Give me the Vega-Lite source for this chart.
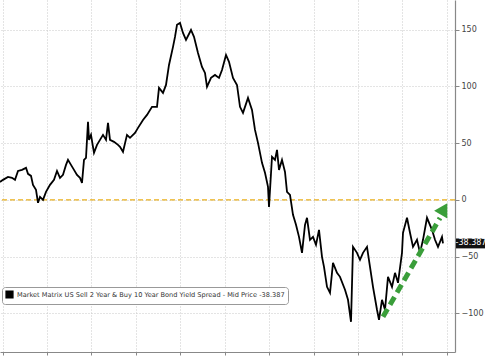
{
  "$schema": "https://vega.github.io/schema/vega-lite/v6.json",
  "width": 455,
  "height": 352,
  "autosize": {"type": "none"},
  "padding": {"left": 0, "top": 0, "right": 30, "bottom": 8},
  "background": "white",
  "config": {"view": {"stroke": null}, "font": "DejaVu Sans"},
  "datasets": {
    "spread": [
      {"d":0,"v":15.8},{"d":3,"v":17.6},{"d":8,"v":20.2},{"d":12,"v":19.4},{"d":15,"v":17.6},{"d":18,"v":25.5},{"d":22,"v":26.4},{"d":26,"v":28.2},{"d":28,"v":22.9},{"d":31,"v":21.1},{"d":33,"v":13.2},{"d":36,"v":8.8},{"d":38,"v":-2.6},{"d":40,"v":2.6},{"d":43,"v":0},{"d":46,"v":7.0},{"d":50,"v":13.2},{"d":54,"v":17.6},{"d":57,"v":25.5},{"d":60,"v":19.4},{"d":63,"v":22.0},{"d":66,"v":30.8},{"d":68,"v":35.2},{"d":71,"v":30.8},{"d":74,"v":26.4},{"d":77,"v":22.0},{"d":80,"v":19.4},{"d":82,"v":15.0},{"d":84,"v":35.2},{"d":86,"v":37.0},{"d":88,"v":68.7},{"d":89,"v":52.8},{"d":91,"v":57.2},{"d":94,"v":41.4},{"d":97,"v":48.4},{"d":100,"v":52.8},{"d":103,"v":57.2},{"d":106,"v":52.8},{"d":108,"v":67.8},{"d":110,"v":52.8},{"d":114,"v":51.1},{"d":118,"v":48.4},{"d":120,"v":46.7},{"d":123,"v":42.3},{"d":127,"v":57.2},{"d":130,"v":54.6},{"d":135,"v":59.0},{"d":138,"v":63.4},{"d":143,"v":70.4},{"d":147,"v":74.8},{"d":152,"v":81.9},{"d":157,"v":81.9},{"d":159,"v":98.6},{"d":163,"v":94.2},{"d":166,"v":101.2},{"d":169,"v":118.8},{"d":173,"v":134.7},{"d":175,"v":143.5},{"d":177,"v":154.1},{"d":180,"v":155.8},{"d":183,"v":147.0},{"d":186,"v":140.8},{"d":191,"v":149.6},{"d":194,"v":143.5},{"d":198,"v":129.4},{"d":202,"v":117.1},{"d":205,"v":111.8},{"d":207,"v":99.5},{"d":211,"v":107.4},{"d":215,"v":110.0},{"d":219,"v":107.4},{"d":222,"v":114.4},{"d":226,"v":127.6},{"d":229,"v":121.5},{"d":233,"v":107.4},{"d":237,"v":101.2},{"d":240,"v":81.9},{"d":243,"v":76.6},{"d":248,"v":89.8},{"d":252,"v":79.2},{"d":255,"v":61.6},{"d":258,"v":50.2},{"d":262,"v":32.6},{"d":265,"v":23.8},{"d":268,"v":11.4},{"d":269,"v":-6.2},{"d":272,"v":37.9},{"d":275,"v":35.2},{"d":277,"v":44.0},{"d":279,"v":26.4},{"d":282,"v":35.2},{"d":285,"v":24.6},{"d":287,"v":7.0},{"d":290,"v":4.4},{"d":293,"v":-13.2},{"d":296,"v":-22.0},{"d":299,"v":-32.6},{"d":302,"v":-46.7},{"d":305,"v":-22.0},{"d":307,"v":-15.8},{"d":310,"v":-35.2},{"d":313,"v":-32.6},{"d":316,"v":-39.6},{"d":319,"v":-26.4},{"d":322,"v":-50.2},{"d":324,"v":-59.0},{"d":327,"v":-76.6},{"d":330,"v":-81.9},{"d":333,"v":-55.5},{"d":337,"v":-64.3},{"d":340,"v":-67.8},{"d":345,"v":-79.2},{"d":348,"v":-88.0},{"d":351,"v":-107.4},{"d":353,"v":-41.4},{"d":357,"v":-46.7},{"d":360,"v":-52.8},{"d":363,"v":-46.7},{"d":367,"v":-41.4},{"d":370,"v":-59.0},{"d":373,"v":-76.6},{"d":377,"v":-96.8},{"d":379,"v":-105.6},{"d":382,"v":-88.0},{"d":385,"v":-96.8},{"d":388,"v":-67.8},{"d":392,"v":-76.6},{"d":395,"v":-64.3},{"d":398,"v":-73.1},{"d":402,"v":-46.7},{"d":403,"v":-29.0},{"d":407,"v":-15.8},{"d":410,"v":-29.0},{"d":413,"v":-41.4},{"d":417,"v":-35.2},{"d":420,"v":-46.7},{"d":423,"v":-35.2},{"d":427,"v":-15.8},{"d":432,"v":-26.4},{"d":435,"v":-35.2},{"d":438,"v":-41.4},{"d":442,"v":-32.6},{"d":443,"v":-38.387}
    ],
    "arrow": [{"d":383,"v":-103},{"d":440,"v":-16}],
    "head": [{"d":444,"v":-8}],
    "zero": [{"v":0}],
    "last": [{"d":471,"v":-38.387,"label":"-38.387"}]
  },
  "layer": [
    {
      "data": {"name": "zero"},
      "mark": {"type": "rule", "color": "#eab01c", "strokeWidth": 1.3, "strokeDash": [5, 3]},
      "encoding": {"y": {"field": "v", "type": "quantitative"}}
    },
    {
      "data": {"name": "spread"},
      "transform": [{"calculate": "'Market Matrix US Sell 2 Year & Buy 10 Year Bond Yield Spread - Mid Price -38.387'", "as": "series"}],
      "mark": {"type": "line", "strokeWidth": 1.8, "interpolate": "linear"},
      "encoding": {
        "x": {
          "field": "d", "type": "quantitative",
          "scale": {"domain": [0, 455], "nice": false, "zero": false},
          "axis": {"title": null, "labels": false, "values": [3,25,47,69,91,114,136,158,180,203,225,247,269,291,314,336,358,380,402,425,447],
            "grid": true, "gridColor": "#c8c8c8", "gridDash": [1, 2], "gridWidth": 1,
            "tickSize": 3, "tickColor": "#888", "domainColor": "#888", "domainWidth": 1.2}
        },
        "y": {
          "field": "v", "type": "quantitative",
          "scale": {"domain": [-134, 176], "nice": false, "zero": false},
          "axis": {"title": null, "orient": "right", "values": [-100, -50, 0, 50, 100, 150],
            "grid": true, "gridColor": "#c8c8c8", "gridDash": [1, 2], "gridWidth": 1,
            "tickSize": 4, "tickColor": "#888", "domainColor": "#888", "domainWidth": 1.2,
            "labelFontSize": 8, "labelColor": "#444", "labelPadding": 2}
        },
        "color": {
          "field": "series", "type": "nominal",
          "scale": {"range": ["#000000"]},
          "legend": {"title": null, "orient": "none", "legendX": 2, "legendY": 287,
            "symbolType": "square", "symbolFillColor": "#000000", "symbolStrokeColor": "#000000", "symbolSize": 45,
            "labelFontSize": 6.6, "labelColor": "#333", "labelLimit": 400, "labelOffset": 3,
            "fillColor": "white", "strokeColor": "#999", "cornerRadius": 3, "padding": 3}
        }
      }
    },
    {
      "data": {"name": "arrow"},
      "mark": {"type": "line", "color": "#3a9e3a", "strokeWidth": 5, "strokeDash": [9, 5], "strokeCap": "butt"},
      "encoding": {"x": {"field": "d", "type": "quantitative"}, "y": {"field": "v", "type": "quantitative"}}
    },
    {
      "data": {"name": "head"},
      "mark": {"type": "point", "shape": "triangle-up", "filled": true, "color": "#3a9e3a", "size": 230, "angle": 30, "opacity": 1},
      "encoding": {"x": {"field": "d", "type": "quantitative"}, "y": {"field": "v", "type": "quantitative"}}
    },
    {
      "data": {"name": "last"},
      "mark": {"type": "point", "shape": "M -1 -0.33 L 1 -0.33 L 1 0.33 L -1 0.33 Z", "filled": true, "color": "#111", "size": 900, "opacity": 1, "clip": false},
      "encoding": {"x": {"field": "d", "type": "quantitative"}, "y": {"field": "v", "type": "quantitative"}}
    },
    {
      "data": {"name": "last"},
      "mark": {"type": "text", "color": "white", "fontSize": 8, "align": "center", "baseline": "middle", "clip": false},
      "encoding": {"x": {"field": "d", "type": "quantitative"}, "y": {"field": "v", "type": "quantitative"}, "text": {"field": "label"}}
    }
  ]
}
